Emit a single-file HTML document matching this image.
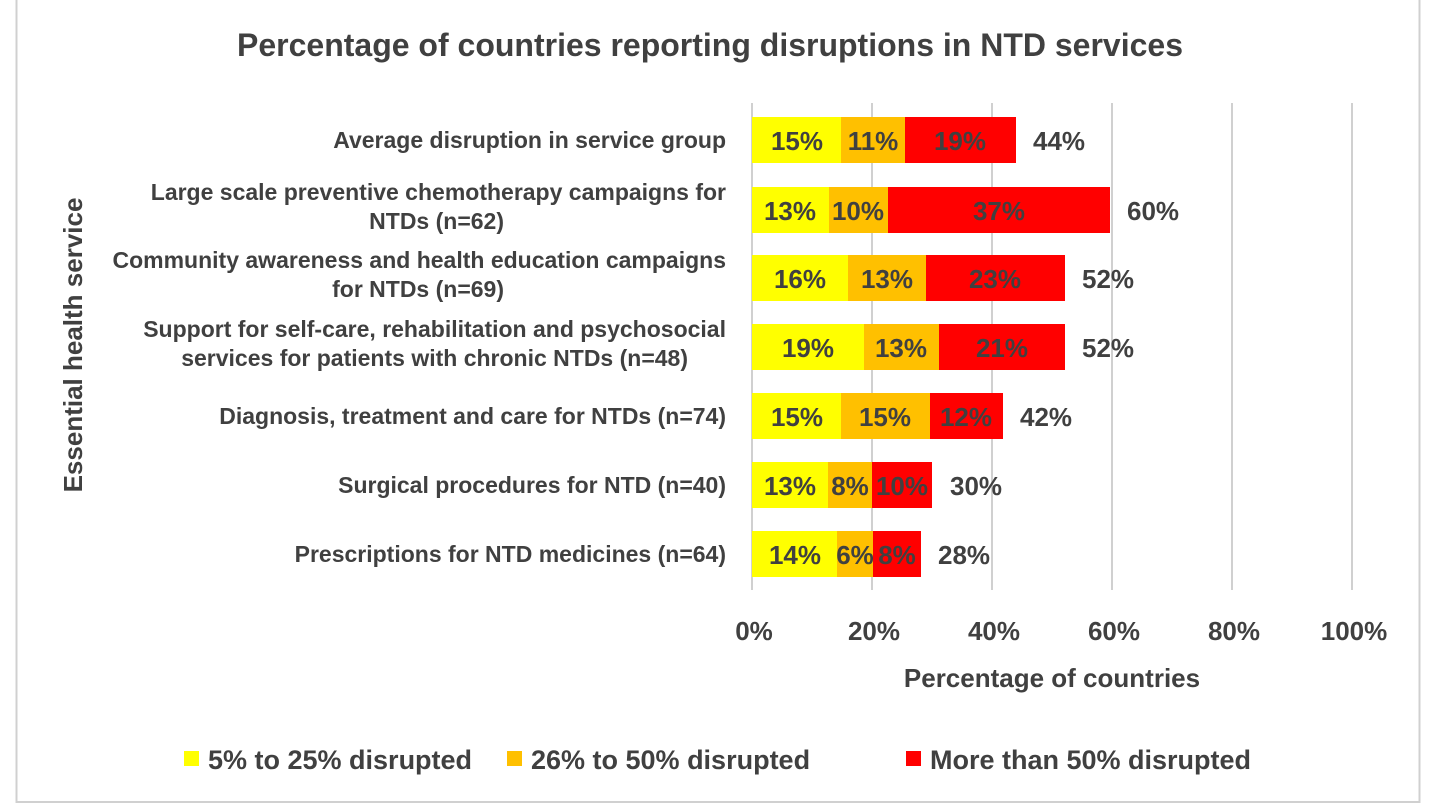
<!DOCTYPE html>
<html><head><style>
body{margin:0;background:#fff}
svg text{font-family:"Liberation Sans",sans-serif;font-weight:bold;fill:#404040}
</style></head><body>
<svg width="1430" height="805" xmlns="http://www.w3.org/2000/svg">
<rect x="16.5" y="-1" width="1403" height="803" fill="#fff" stroke="#d0d0d0" stroke-width="2"/>
<text x="710" y="56" font-size="32" text-anchor="middle">Percentage of countries reporting disruptions in NTD services</text>
<g stroke="#d0d0d0" stroke-width="2">
<line x1="752" y1="103" x2="752" y2="590"/><line x1="872" y1="103" x2="872" y2="590"/>
<line x1="992" y1="103" x2="992" y2="590"/><line x1="1112" y1="103" x2="1112" y2="590"/>
<line x1="1232" y1="103" x2="1232" y2="590"/><line x1="1352" y1="103" x2="1352" y2="590"/>
</g>
<rect x="752" y="117" width="89" height="46" fill="#ffff00"/><rect x="841" y="117" width="64" height="46" fill="#ffc000"/><rect x="905" y="117" width="111" height="46" fill="#ff0000"/>
<rect x="752" y="187" width="77" height="46" fill="#ffff00"/><rect x="829" y="187" width="59" height="46" fill="#ffc000"/><rect x="888" y="187" width="222" height="46" fill="#ff0000"/>
<rect x="752" y="255" width="96" height="46" fill="#ffff00"/><rect x="848" y="255" width="78" height="46" fill="#ffc000"/><rect x="926" y="255" width="139" height="46" fill="#ff0000"/>
<rect x="752" y="324" width="112" height="46" fill="#ffff00"/><rect x="864" y="324" width="75" height="46" fill="#ffc000"/><rect x="939" y="324" width="126" height="46" fill="#ff0000"/>
<rect x="752" y="393" width="89" height="46" fill="#ffff00"/><rect x="841" y="393" width="89" height="46" fill="#ffc000"/><rect x="930" y="393" width="73" height="46" fill="#ff0000"/>
<rect x="752" y="462" width="76" height="46" fill="#ffff00"/><rect x="828" y="462" width="44" height="46" fill="#ffc000"/><rect x="872" y="462" width="60" height="46" fill="#ff0000"/>
<rect x="752" y="531" width="85" height="46" fill="#ffff00"/><rect x="837" y="531" width="36" height="46" fill="#ffc000"/><rect x="873" y="531" width="48" height="46" fill="#ff0000"/>
<g font-size="26" text-anchor="middle">
<text x="797" y="150">15%</text><text x="873" y="150">11%</text><text x="960" y="150">19%</text>
<text x="790" y="220">13%</text><text x="858" y="220">10%</text><text x="999" y="220">37%</text>
<text x="800" y="288">16%</text><text x="887" y="288">13%</text><text x="995" y="288">23%</text>
<text x="808" y="357">19%</text><text x="901" y="357">13%</text><text x="1002" y="357">21%</text>
<text x="797" y="426">15%</text><text x="885" y="426">15%</text><text x="966" y="426">12%</text>
<text x="790" y="495">13%</text><text x="850" y="495">8%</text><text x="902" y="495">10%</text>
<text x="795" y="564">14%</text><text x="855" y="564">6%</text><text x="897" y="564">8%</text>
</g>
<g font-size="26">
<text x="1033" y="150">44%</text><text x="1127" y="220">60%</text><text x="1082" y="288">52%</text>
<text x="1082" y="357">52%</text><text x="1020" y="426">42%</text><text x="950" y="495">30%</text><text x="938" y="564">28%</text>
</g>
<g text-anchor="end" font-size="23">
<text x="726" y="148">Average disruption in service group</text>
<text x="726" y="200">Large scale preventive chemotherapy campaigns for</text>
<text x="504" y="229">NTDs (n=62)</text>
<text x="726" y="268">Community awareness and health education campaigns</text>
<text x="504" y="297">for NTDs (n=69)</text>
<text x="726" y="337">Support for self-care, rehabilitation and psychosocial</text>
<text x="688" y="366">services for patients with chronic NTDs (n=48)</text>
<text x="726" y="424">Diagnosis, treatment and care for NTDs (n=74)</text>
<text x="726" y="493">Surgical procedures for NTD (n=40)</text>
<text x="726" y="562">Prescriptions for NTD medicines (n=64)</text>
</g>
<g text-anchor="middle" font-size="26">
<text x="754" y="640">0%</text><text x="874" y="640">20%</text><text x="994" y="640">40%</text>
<text x="1114" y="640">60%</text><text x="1234" y="640">80%</text><text x="1354" y="640">100%</text>
<text x="1052" y="687">Percentage of countries</text>
</g>
<text transform="translate(82,345) rotate(-90)" text-anchor="middle" font-size="26">Essential health service</text>
<g font-size="27">
<rect x="184" y="751" width="15" height="15" fill="#ffff00"/><text x="208" y="769">5% to 25% disrupted</text>
<rect x="507" y="751" width="15" height="15" fill="#ffc000"/><text x="531" y="769">26% to 50% disrupted</text>
<rect x="906" y="751" width="15" height="15" fill="#ff0000"/><text x="930" y="769">More than 50% disrupted</text>
</g>
</svg>
</body></html>
